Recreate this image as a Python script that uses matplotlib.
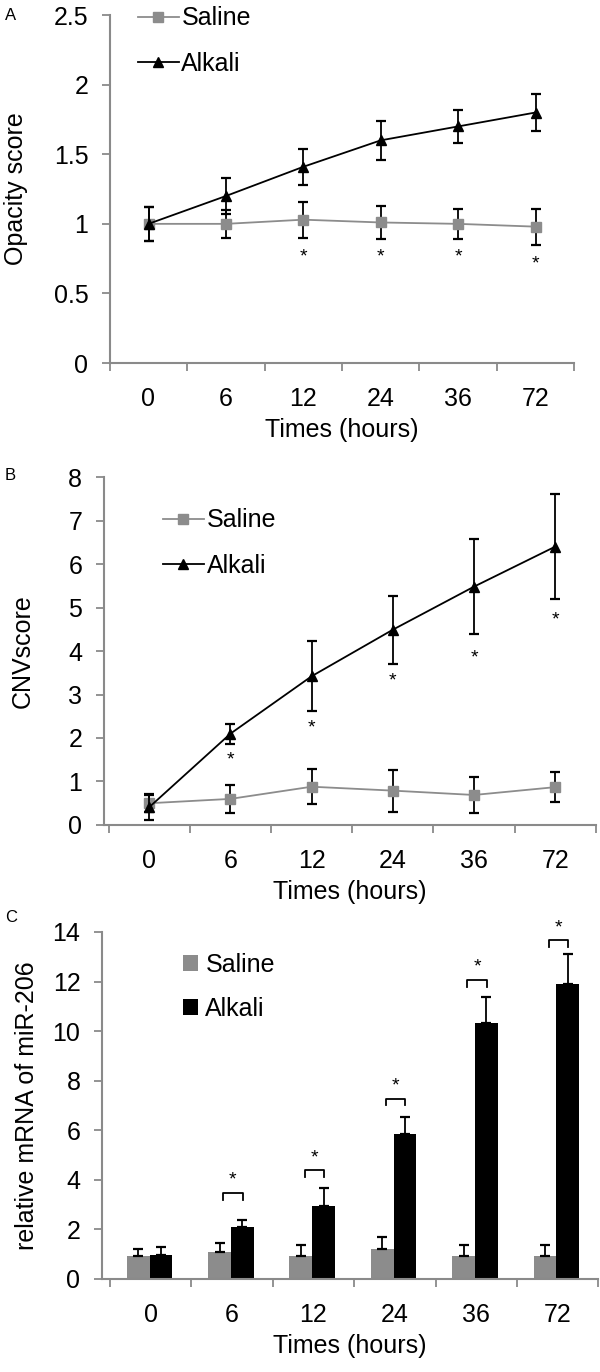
import numpy as np
import matplotlib
matplotlib.use("Agg")
from matplotlib import pyplot as plt

plt.rcParams['font.family'] = ['Liberation Sans', 'DejaVu Sans']

# data
times = ['0', '6', '12', '24', '36', '72']

# panel A - opacity score
opa_saline = [1.0, 1.0, 1.03, 1.01, 1.0, 0.98]
opa_saline_err = [0.12, 0.10, 0.13, 0.12, 0.11, 0.13]
opa_alkali = [1.0, 1.2, 1.41, 1.6, 1.7, 1.8]
opa_alkali_err = [0.12, 0.13, 0.13, 0.14, 0.12, 0.13]
opa_star_idx = [2, 3, 4, 5]
opa_star_y = [0.76, 0.76, 0.76, 0.71]

# panel B - CNV score
cnv_saline = [0.5, 0.6, 0.88, 0.79, 0.69, 0.87]
cnv_saline_err = [0.2, 0.33, 0.4, 0.48, 0.41, 0.35]
cnv_alkali = [0.41, 2.1, 3.42, 4.49, 5.48, 6.4]
cnv_alkali_err = [0.3, 0.23, 0.8, 0.78, 1.1, 1.2]
cnv_star_idx = [1, 2, 3, 4, 5]
cnv_star_y = [1.5, 2.22, 3.3, 3.84, 4.72]

# panel C - relative mRNA of miR-206
mir_saline = [0.94, 1.1, 0.94, 1.2, 0.94, 0.94]
mir_saline_err = [0.26, 0.36, 0.44, 0.5, 0.44, 0.44]
mir_alkali = [0.97, 2.11, 2.96, 5.83, 10.34, 11.9]
mir_alkali_err = [0.31, 0.27, 0.72, 0.72, 1.04, 1.23]
mir_star_idx = [1, 2, 3, 4, 5]
mir_bracket_y = [3.48, 4.4, 7.28, 12.08, 13.67]

GRAY = '#8c8c8c'
AXGRAY = '#8a8a8a'
FS = 18
x = np.arange(len(times))


def style_axes(ax, ylim, yticks, xleft):
	ax.set_xlim(xleft, 5.5)
	ax.set_ylim(*ylim)
	ax.set_yticks(yticks)
	ax.set_yticklabels(['{:g}'.format(v) for v in yticks])
	ax.set_xticks(x)
	ax.set_xticklabels(times)
	# tick marks sit on the category boundaries, labels at the centers
	ax.set_xticks(np.arange(-0.5, 6.0, 1.0), minor=True)
	ax.tick_params(axis='x', which='major', length=0, pad=17, labelsize=FS)
	ax.tick_params(axis='x', which='minor', length=5.5, color=AXGRAY, width=1.3)
	ax.tick_params(axis='y', length=5.5, color=AXGRAY, width=1.3, labelsize=FS, pad=10)
	for side in ['top', 'right']:
		ax.spines[side].set_visible(False)
	for side in ['left', 'bottom']:
		ax.spines[side].set_color(AXGRAY)
		ax.spines[side].set_linewidth(1.5)
	ax.set_xlabel('Times (hours)', fontsize=FS, labelpad=5)


def line_panel(ax, sal, sal_err, alk, alk_err):
	ax.errorbar(x, sal, yerr=sal_err, color=GRAY, marker='s', markersize=6.5,
		linewidth=1.3, ecolor='black', elinewidth=1.3, capsize=3.8, capthick=1.6,
		label='Saline', zorder=3)
	ax.errorbar(x, alk, yerr=alk_err, color='black', marker='^', markersize=7,
		linewidth=1.3, ecolor='black', elinewidth=1.3, capsize=3.8, capthick=1.6,
		label='Alkali', zorder=4)


def line_legend(ax, xa, ya):
	# legend handles are plain line+marker, no error bars
	h = [plt.Line2D([], [], color=GRAY, marker='s', markersize=6.5, lw=1.3),
		plt.Line2D([], [], color='black', marker='^', markersize=7, lw=1.3)]
	ax.legend(h, ['Saline', 'Alkali'], loc='upper left', bbox_to_anchor=(xa, ya),
		frameon=False, fontsize=FS, handlelength=1.65, handletextpad=0.1,
		labelspacing=0.85, borderpad=0, borderaxespad=0)


def place_ylabel(ax, text, xpix):
	# xpix = wanted horizontal center of the y label, in figure pixels
	ax.set_ylabel(text, fontsize=FS, va='center')
	left = ax.get_position().x0 * 600
	width = ax.get_position().width * 600
	ax.yaxis.set_label_coords((xpix - left) / width, 0.5)


fig = plt.figure(figsize=(6, 13.72), dpi=100)

# ---- panel A
axA = fig.add_axes([0.183, 0.7354, 0.774, 0.2536])
line_panel(axA, opa_saline, opa_saline_err, opa_alkali, opa_alkali_err)
style_axes(axA, (0, 2.5), [0, 0.5, 1, 1.5, 2, 2.5], -0.5)
for i, yy in zip(opa_star_idx, opa_star_y):
	axA.text(x[i], yy, '*', ha='center', va='center', fontsize=14)
place_ylabel(axA, 'Opacity score', 16)
line_legend(axA, 0.06, 1.025)

# ---- panel B
axB = fig.add_axes([0.173, 0.3987, 0.820, 0.2536])
line_panel(axB, cnv_saline, cnv_saline_err, cnv_alkali, cnv_alkali_err)
style_axes(axB, (0, 8), list(range(0, 9)), -0.56)
for i, yy in zip(cnv_star_idx, cnv_star_y):
	axB.text(x[i], yy, '*', ha='center', va='center', fontsize=14)
place_ylabel(axB, 'CNVscore', 23)
line_legend(axB, 0.12, 0.91)

# ---- panel C
axC = fig.add_axes([0.17, 0.0678, 0.827, 0.2529])
w = 0.28
axC.bar(x - 0.155, mir_saline, width=w, color=GRAY, label='Saline', zorder=2)
axC.bar(x + 0.125, mir_alkali, width=w, color='black', label='Alkali', zorder=2)
axC.errorbar(x - 0.155, mir_saline, yerr=[np.zeros(6), mir_saline_err], fmt='none',
	ecolor='black', elinewidth=1.3, capsize=3.8, capthick=1.6, zorder=3)
axC.errorbar(x + 0.125, mir_alkali, yerr=[np.zeros(6), mir_alkali_err], fmt='none',
	ecolor='black', elinewidth=1.3, capsize=3.8, capthick=1.6, zorder=3)
style_axes(axC, (0, 14), list(range(0, 15, 2)), -0.6)
for i, yb in zip(mir_star_idx, mir_bracket_y):
	x0, x1 = x[i] - 0.11, x[i] + 0.13
	axC.plot([x0, x0, x1, x1], [yb - 0.28, yb, yb, yb - 0.28], color='black', lw=1.3)
	axC.text((x0 + x1) / 2, yb + 0.5, '*', ha='center', va='center', fontsize=14)
place_ylabel(axC, 'relative mRNA of miR-206', 27)
axC.legend(loc='upper left', bbox_to_anchor=(0.163, 0.94), frameon=False,
	fontsize=FS, handlelength=0.6, handleheight=0.6, handletextpad=0.3,
	labelspacing=0.8, borderpad=0, borderaxespad=0)

# panel letters
fig.text(0.008, 1 - 16 / 1372, 'A', fontsize=12, va='center')
fig.text(0.008, 1 - 475 / 1372, 'B', fontsize=12, va='center')
fig.text(0.008, 1 - 917 / 1372, 'C', fontsize=12, va='center')

fig.savefig('out.png', dpi=100)
